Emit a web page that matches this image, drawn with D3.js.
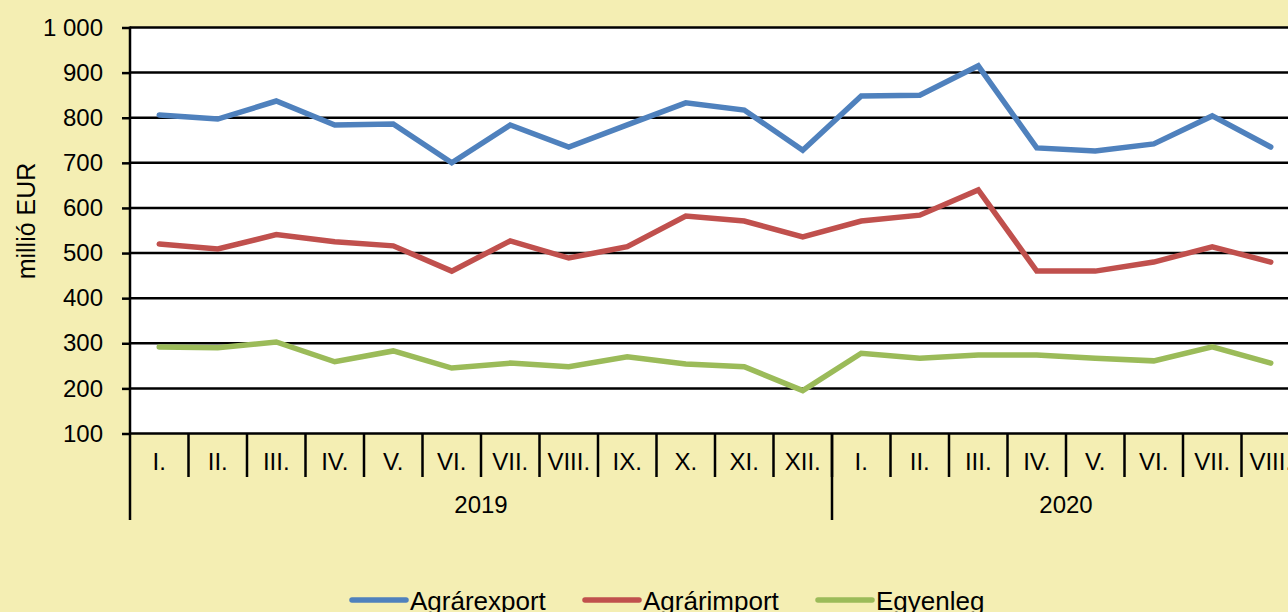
<!DOCTYPE html>
<html>
<head>
<meta charset="utf-8">
<script src="https://cdn.jsdelivr.net/npm/d3@7/dist/d3.min.js"></script>
<style>
  html, body { margin: 0; padding: 0; background: #f4eeb3; overflow: hidden; }
  svg { display: block; font-family: "Liberation Sans", Arial, sans-serif; }
</style>
</head>
<body>
<svg id="chart" width="1288" height="612"></svg>
<script>
// Monthly agricultural trade, million EUR
const months = ["I.", "II.", "III.", "IV.", "V.", "VI.", "VII.", "VIII.", "IX.", "X.", "XI.", "XII.",
                "I.", "II.", "III.", "IV.", "V.", "VI.", "VII.", "VIII."];
const years = ["2019", "2020"];
const monthsPerYear = [12, 8];
const exportValues = [806, 797, 837, 784, 786, 700, 784, 735, 784, 833, 817, 728,
                      848, 850, 915, 733, 726, 742, 804, 735];
const importValues = [520, 509, 541, 525, 516, 460, 527, 489, 514, 582, 571, 536,
                      571, 584, 640, 460, 460, 480, 514, 480];
const balanceValues = [292, 290, 303, 259, 283, 245, 256, 248, 270, 254, 248, 195,
                       278, 267, 274, 274, 267, 261, 292, 256];
const seriesNames = ["Agrárexport", "Agrárimport", "Egyenleg"];
const seriesColors = ["#4f81bd", "#c0504d", "#9bbb59"];
const yTicks = [100, 200, 300, 400, 500, 600, 700, 800, 900, 1000];

const svg = d3.select("#chart");
const plotLeft = 130, plotRight = 1300, plotTop = 27.5, plotBottom = 433.5;

const idx = d3.range(months.length);
const x = d3.scaleBand().domain(idx).range([plotLeft, plotRight]).padding(0);
const y = d3.scaleLinear().domain([100, 1000]).range([plotBottom, plotTop]);
const fmt = v => d3.format(",")(v).replace(/,/g, " ");

// plot background
svg.append("rect")
  .attr("x", plotLeft).attr("y", plotTop)
  .attr("width", plotRight - plotLeft).attr("height", plotBottom - plotTop)
  .attr("fill", "#ffffff");

// gridlines
svg.append("g")
  .selectAll("line")
  .data(yTicks)
  .join("line")
  .attr("x1", plotLeft).attr("x2", plotRight)
  .attr("y1", d => y(d)).attr("y2", d => y(d))
  .attr("stroke", "#000").attr("stroke-width", 2.5);

// y axis
const yAxis = svg.append("g")
  .attr("transform", `translate(${plotLeft},0)`)
  .call(d3.axisLeft(y).tickValues(yTicks).tickFormat(fmt).tickSize(8).tickPadding(19));
yAxis.select(".domain").remove();
yAxis.selectAll(".tick line").attr("stroke", "#000").attr("stroke-width", 2.5);
yAxis.selectAll(".tick text")
  .attr("fill", "#000").style("font-size", "24px")
  .style("font-family", "'Liberation Sans', Arial, sans-serif");

// vertical axis line, running down through the category rows
svg.append("line")
  .attr("x1", plotLeft).attr("x2", plotLeft)
  .attr("y1", plotTop - 1).attr("y2", 520)
  .attr("stroke", "#000").attr("stroke-width", 2.5);

// month separators
svg.append("g")
  .selectAll("line")
  .data(idx.slice(1))
  .join("line")
  .attr("x1", d => x(d)).attr("x2", d => x(d))
  .attr("y1", plotBottom).attr("y2", 477)
  .attr("stroke", "#000").attr("stroke-width", 2.5);

// year separators
let cum = 0;
const yearStarts = monthsPerYear.map(n => { const s = cum; cum += n; return s; });
svg.append("g")
  .selectAll("line")
  .data(yearStarts.slice(1))
  .join("line")
  .attr("x1", d => x(d)).attr("x2", d => x(d))
  .attr("y1", plotBottom).attr("y2", 520)
  .attr("stroke", "#000").attr("stroke-width", 2.5);

// month labels
svg.append("g")
  .selectAll("text")
  .data(idx)
  .join("text")
  .attr("x", d => x(d) + x.bandwidth() / 2)
  .attr("y", 470)
  .attr("text-anchor", "middle")
  .style("font-size", "24px")
  .text(d => months[d]);

// year labels
svg.append("g")
  .selectAll("text")
  .data(years)
  .join("text")
  .attr("x", (d, i) => {
    const s = yearStarts[i], e = s + monthsPerYear[i] - 1;
    return (x(s) + x(e) + x.bandwidth()) / 2;
  })
  .attr("y", 513)
  .attr("text-anchor", "middle")
  .style("font-size", "24px")
  .text(d => d);

// y axis title
svg.append("text")
  .attr("transform", "translate(35,221) rotate(-90)")
  .attr("text-anchor", "middle")
  .style("font-size", "25px")
  .text("millió EUR");

// series lines
const allSeries = [exportValues, importValues, balanceValues];
const line = d3.line()
  .x((d, i) => x(i) + x.bandwidth() / 2)
  .y(d => y(d));
svg.append("g")
  .selectAll("path")
  .data(allSeries)
  .join("path")
  .attr("d", d => line(d))
  .attr("fill", "none")
  .attr("stroke", (d, i) => seriesColors[i])
  .attr("stroke-width", 5.5)
  .attr("stroke-linejoin", "miter")
  .attr("stroke-linecap", "round");

// legend
const legendX = [352, 585, 818];
const legend = svg.append("g")
  .selectAll("g")
  .data(seriesNames)
  .join("g")
  .attr("transform", (d, i) => `translate(${legendX[i]},600)`);
legend.append("line")
  .attr("x1", 0).attr("x2", 54)
  .attr("y1", 0).attr("y2", 0)
  .attr("stroke", (d, i) => seriesColors[i])
  .attr("stroke-width", 5.5)
  .attr("stroke-linecap", "round");
legend.append("text")
  .attr("x", 58).attr("y", 10)
  .style("font-size", "26px")
  .text(d => d);
</script>
</body>
</html>
